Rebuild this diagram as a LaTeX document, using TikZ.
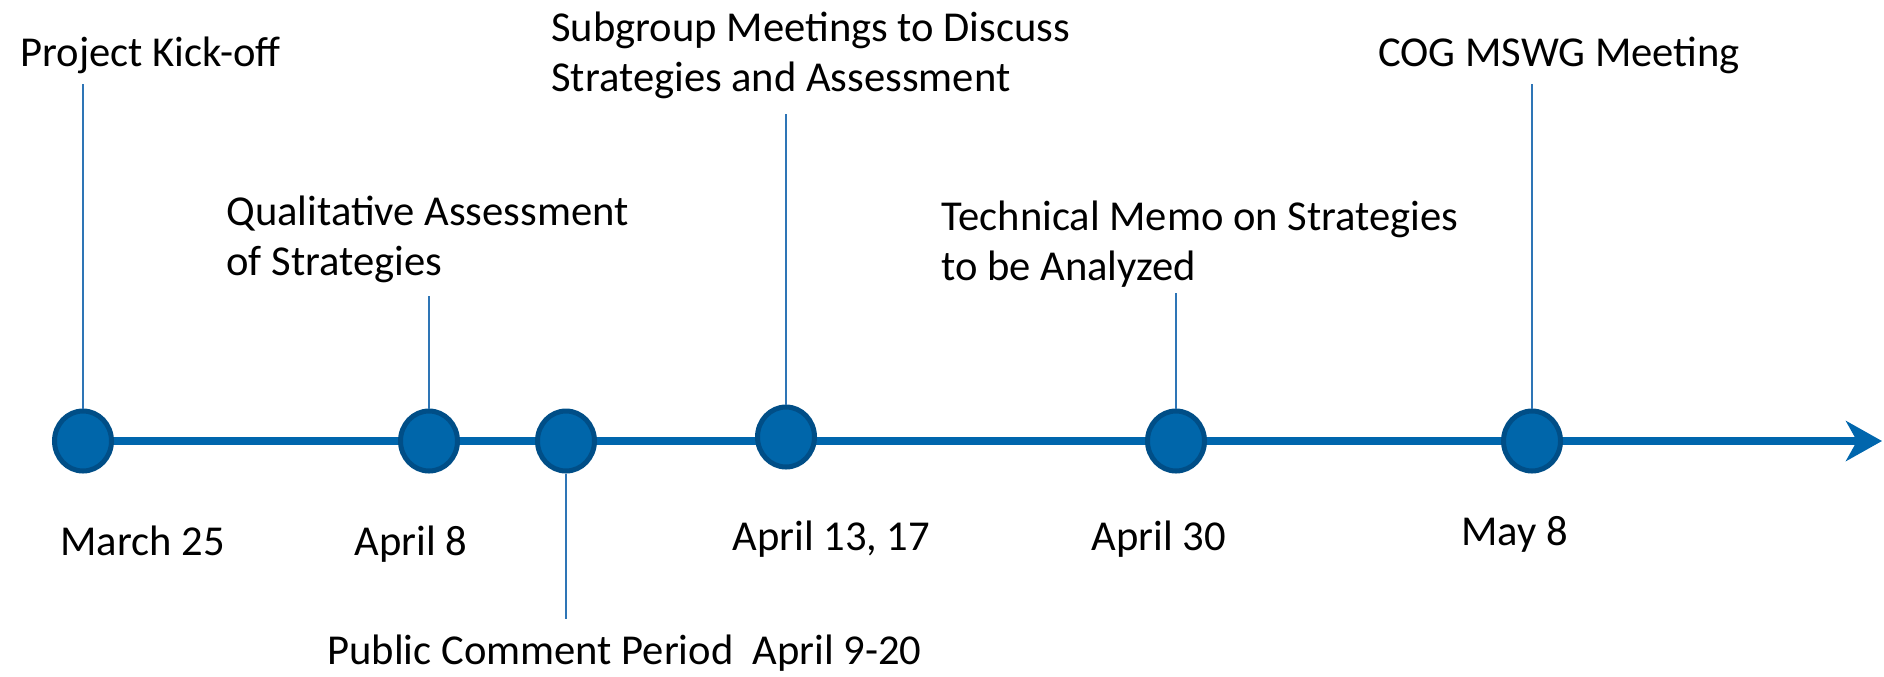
\documentclass[tikz,border=0pt]{standalone}
\usepackage{fontspec}
\setmainfont{Carlito}
\usetikzlibrary{shapes.geometric,arrows.meta,backgrounds}
\definecolor{dotfill}{RGB}{0,102,170}
\definecolor{dotedge}{RGB}{0,78,135}
\definecolor{axisblue}{RGB}{0,102,173}
\definecolor{tickblue}{RGB}{46,117,182}
\begin{document}
\begin{tikzpicture}[x=0.5pt,y=-0.5pt,
  dot/.style={ellipse, draw=dotedge, line width=2.5pt, fill=dotfill,
    minimum width=28.5pt, minimum height=30pt, inner sep=0pt},
  tick/.style={draw=tickblue, line width=1pt},
  lbl/.style={anchor=base west, inner sep=0pt,
    font=\fontsize{21.3}{24.8}\selectfont, align=left},
  axis/.style={draw=axisblue, line width=4pt,
    -{Stealth[length=18pt,width=20pt,inset=5.5pt]}}]
\useasboundingbox (0,0) rectangle (1884,676);
% milestones
\node[dot] (c1) at (83,441) {};
\node[dot] (c2) at (429,441) {};
\node[dot] (c3) at (566,441) {};
\node[dot] (c4) at (786,437) {};
\node[dot] (c5) at (1176,441) {};
\node[dot] (c6) at (1532,441) {};
\coordinate (tip) at (1882,441);
\begin{scope}[on background layer]
  \draw[axis] (c1.center) -- (tip);
\end{scope}
% event labels (base = baseline of last line)
\node[lbl] (e1) at (20,66) {Project Kick-off};
\node[lbl] (e2) at (226,275) {Qualitative Assessment\\of Strategies};
\node[lbl] (e4) at (551,91) {Subgroup Meetings to Discuss\\Strategies and Assessment};
\node[lbl] (e5) at (941,280) {Technical Memo on Strategies\\to be Analyzed};
\node[lbl] (e6) at (1378,66) {COG MSWG Meeting};
\node[lbl] (e3) at (327,664) {Public Comment Period~ April 9-20};
% date labels
\node[lbl] (d1) at (60,555) {March 25};
\node[lbl] (d2) at (354,555) {April 8};
\node[lbl] (d4) at (732,550) {April 13, 17};
\node[lbl] (d5) at (1091,550) {April 30};
\node[lbl] (d6) at (1461,545) {May 8};
% ticks
\coordinate (k1) at (83,84);
\coordinate (k2) at (429,296);
\coordinate (k3) at (566,619);
\coordinate (k4) at (786,114);
\coordinate (k5) at (1176,293);
\coordinate (k6) at (1532,84);
\draw[tick] (k1) -- (c1.north);
\draw[tick] (k2) -- (c2.north);
\draw[tick] (c3.south) -- (k3);
\draw[tick] (k4) -- (c4.north);
\draw[tick] (k5) -- (c5.north);
\draw[tick] (k6) -- (c6.north);
\end{tikzpicture}
\end{document}
